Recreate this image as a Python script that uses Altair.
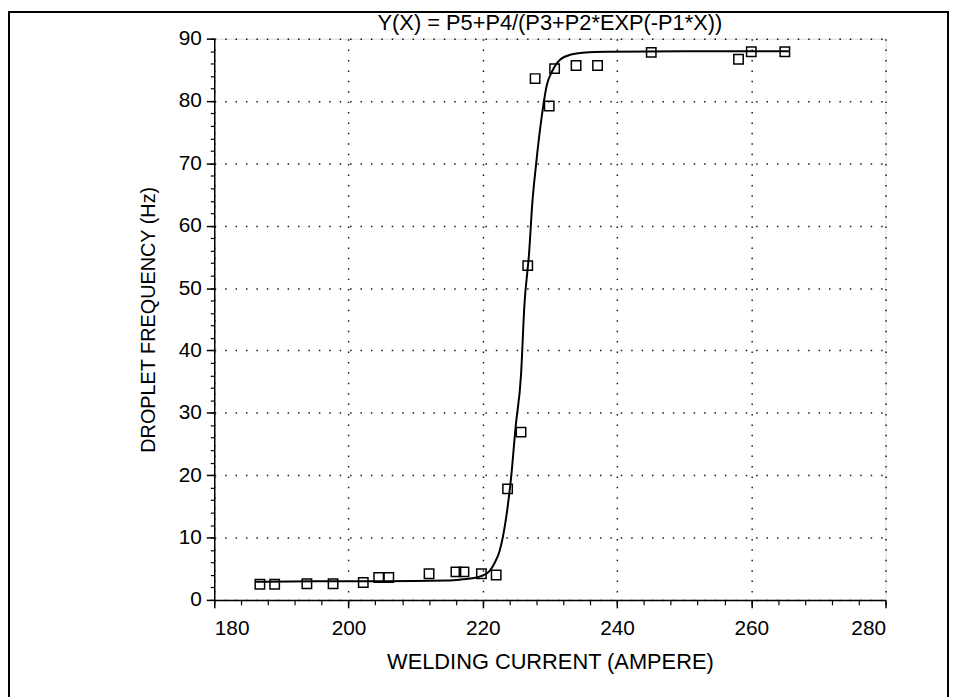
import altair as alt
import pandas as pd

# Measured data points (open squares)
pt_x = [186.8, 189.0, 193.8, 197.7, 202.2, 204.5, 206.0, 212.0, 216.0, 217.2, 219.8, 222.0,
        223.7, 225.7, 226.7, 229.9, 227.8, 230.7, 233.9, 237.1, 245.1, 258.1, 260.0, 265.0]
pt_y = [2.5, 2.5, 2.6, 2.6, 2.8, 3.6, 3.6, 4.2, 4.5, 4.5, 4.2, 4.0,
        17.8, 26.9, 53.6, 79.2, 83.6, 85.2, 85.7, 85.7, 87.8, 86.7, 87.9, 87.9]

# Fitted curve
cx = [186.1, 195, 205, 214.7, 217, 219.1, 220.2, 221.0, 221.8, 222.5, 223.5, 224.2, 224.9,
      225.7, 226.2, 226.9, 227.4, 227.9, 228.6, 229.6, 230.3, 231.6, 233.3, 235.3, 239.2,
      250, 260, 265.6]
cy = [2.9, 3.0, 3.0, 3.1, 3.3, 3.6, 4.0, 4.6, 6.0, 7.8, 13.3, 19.4, 27.8,
      36.1, 47.2, 55.6, 63.9, 69.4, 76.0, 82.8, 84.7, 86.7, 87.5, 87.8, 87.9,
      88.0, 88.0, 88.0]

x_major = [180, 200, 220, 240, 260, 280]
x_minor = list(range(180, 281, 4))
y_major = [0, 10, 20, 30, 40, 50, 60, 70, 80, 90]
y_minor = list(range(0, 91, 2))

title_text = "Y(X) = P5+P4/(P3+P2*EXP(-P1*X))"
x_title = "WELDING CURRENT (AMPERE)"
y_title = "DROPLET FREQUENCY (Hz)"

FONT = "Liberation Sans Narrow, Liberation Sans, Arial"
W, H = 677, 566
PL, PT = 208, 28

pts = pd.DataFrame({"x": pt_x, "y": pt_y})
curve = pd.DataFrame({"x": cx, "y": cy})

xs = alt.Scale(domain=[180, 280], nice=False, zero=False)
ys = alt.Scale(domain=[0, 90], nice=False, zero=False)

grid_style = dict(grid=True, gridColor="#000000", gridDash=[1.5, 9], gridWidth=1.5, gridOpacity=0.9)

x_axis_major = alt.Axis(orient="bottom", values=x_major, format="d", tickSize=8, tickWidth=1.5,
                        tickColor="black", domainColor="black", domainWidth=1.5,
                        labelFont=FONT, labelFontSize=21, labelColor="black", labelPadding=10,
                        title=x_title, titleFont=FONT, titleFontSize=22, titleFontWeight="normal",
                        titleColor="black", titleY=62, titleBaseline="middle", **grid_style)
y_axis_major = alt.Axis(orient="left", values=y_major, format="d", tickSize=8, tickWidth=1.5,
                        tickColor="black", domainColor="black", domainWidth=1.5,
                        labelFont=FONT, labelFontSize=21, labelColor="black", labelPadding=5,
                        title=y_title, titleFont=FONT, titleFontSize=20, titleFontWeight="normal",
                        titleColor="black", titleX=-66, titleY=H / 2, titleAngle=-90,
                        titleAlign="center", titleBaseline="middle", **grid_style)
x_axis_minor = alt.Axis(orient="bottom", values=x_minor, labels=False, tickSize=5, tickWidth=1.2,
                        tickColor="black", domain=False, grid=False, title=None)
y_axis_minor = alt.Axis(orient="left", values=y_minor, labels=False, tickSize=4, tickWidth=1.2,
                        tickColor="black", domain=False, grid=False, title=None)

line = alt.Chart(curve).mark_line(color="black", strokeWidth=2, interpolate="monotone").encode(
    x=alt.X("x:Q", scale=xs, axis=x_axis_major),
    y=alt.Y("y:Q", scale=ys, axis=y_axis_major),
    order="x:Q",
)

points = alt.Chart(pts).mark_point(shape="square", filled=False, color="black", size=90,
                                   strokeWidth=1.5, opacity=1).encode(
    x=alt.X("x:Q", scale=xs, axis=x_axis_minor),
    y=alt.Y("y:Q", scale=ys, axis=y_axis_minor),
)

one = alt.Data(values=[{"a": 1}])

frame = alt.Chart(one).mark_rect(
    fillOpacity=0, stroke="black", strokeWidth=2, clip=False).encode(
    x=alt.value(-PL + 1), x2=alt.value(W + 63),
    y=alt.value(-PT + 1), y2=alt.value(H + 120),
)

title = alt.Chart(one).mark_text(
    text=title_text, font=FONT, fontSize=22, color="black", align="center",
    baseline="alphabetic", clip=False).encode(
    x=alt.value(W / 2), y=alt.value(-9),
)

chart = alt.layer(frame, title, line, points).resolve_axis(x="independent", y="independent").properties(
    width=W, height=H,
    autosize=alt.AutoSizeParams(type="none"),
    padding={"left": PL, "top": PT, "right": 949 - PL - W, "bottom": 689 - PT - H},
).configure_view(stroke="black", strokeWidth=1.5).configure(background="white")

chart.save("out.html", embed_options={"renderer": "svg", "actions": False})
